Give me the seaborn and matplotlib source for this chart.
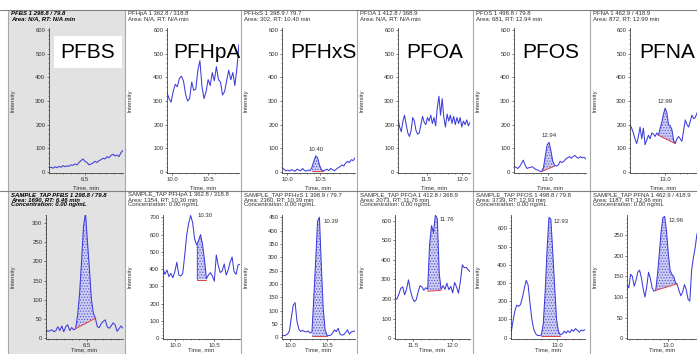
import numpy as np
import matplotlib
matplotlib.use("Agg")
import matplotlib.pyplot as plt
from matplotlib.ticker import FixedLocator, AutoMinorLocator, MultipleLocator, FormatStrFormatter
from matplotlib.lines import Line2D
from matplotlib.patches import Rectangle
import seaborn as sns
import pandas as pd

# ---------------- data ----------------
compounds = ["PFBS", "PFHpA", "PFHxS", "PFOA", "PFOS", "PFNA"]
transitions = ["298.8 / 79.8", "362.8 / 318.8", "398.9 / 79.7", "412.8 / 368.9", "498.8 / 79.8", "462.9 / 418.9"]

top_area = ["N/A", "N/A", "302", "N/A", "681", "872"]
top_rt = ["N/A", "N/A", "10.40", "N/A", "12.94", "12.99"]
bot_area = ["1690", "1354", "2360", "2073", "3739", "1187"]
bot_rt = ["6.46", "10.30", "10.39", "11.76", "12.93", "12.96"]
concentration = "0.00 ng/mL"

# intensities (top row = standard / reference, bottom row = SAMPLE_TAP)
top_pfbs = [18, 20, 16, 22, 18, 24, 20, 27, 22, 26, 24, 30, 28, 34, 30, 40, 48, 55, 45, 40, 30, 34, 38, 45, 40,
            48, 52, 58, 55, 65, 60, 70, 75, 68, 72, 65, 82, 92]
top_pfhpa = [335, 310, 295, 340, 370, 360, 395, 405, 385, 330, 300, 310, 380, 345, 350, 430, 470, 360, 310, 340,
             390, 365, 420, 385, 445, 390, 380, 325, 340, 385, 430, 390, 420, 365, 440, 540]
top_pfhxs = [18, 12, 5, 8, 4, 10, 6, 3, 12, 8, 5, 15, 6, 4, 8, 5, 20, 45, 68, 60, 30, 10, 5, 8, 12, 6, 15, 10, 5,
             12, 18, 22, 30, 25, 38, 45, 40, 52, 48, 60]
top_pfoa = [225, 190, 170, 215, 240, 200, 165, 150, 175, 230, 215, 175, 160, 165, 200, 235, 210, 200, 230, 215,
            240, 205, 230, 195, 270, 320, 240, 310, 230, 190, 245, 215, 240, 205, 235, 200, 230, 205, 230, 190,
            215, 200, 220, 195, 210]
top_pfos = [25, 20, 15, 22, 35, 50, 30, 15, 18, 20, 22, 15, 10, 8, 3, 2, 20, 70, 115, 125, 90, 45, 28, 25, 30, 45,
            40, 45, 55, 60, 65, 58, 65, 70, 62, 58, 65, 60, 62, 55]
top_pfna = [200, 185, 165, 140, 120, 150, 190, 140, 185, 115, 135, 155, 140, 165, 160, 150, 165, 155, 185, 210,
            245, 270, 250, 200, 195, 180, 135, 120, 140, 150, 140, 130, 175, 220, 200, 190, 215, 240, 225, 230, 250]

bot_pfbs = [22, 18, 20, 22, 17, 20, 30, 20, 32, 17, 30, 35, 20, 28, 22, 25, 60, 115, 200, 290, 325, 250, 180, 100,
            65, 52, 30, 28, 38, 44, 48, 30, 26, 32, 40, 35, 18, 25, 32, 26]
bot_pfhpa = [400, 370, 395, 357, 375, 350, 385, 440, 366, 360, 375, 480, 597, 665, 710, 670, 575, 540, 565, 600,
             545, 455, 345, 366, 380, 360, 330, 482, 420, 380, 390, 430, 366, 395, 440, 470, 385, 370, 424, 428]
bot_pfhxs = [9, 6, 8, 12, 25, 75, 120, 130, 60, 30, 22, 26, 22, 20, 24, 16, 20, 150, 290, 435, 450, 270, 110, 30,
             8, 6, 8, 15, 28, 21, 34, 12, 8, 10, 18, 28, 12, 20, 22, 24]
bot_pfoa = [204, 200, 225, 255, 262, 222, 250, 298, 245, 208, 187, 196, 235, 268, 262, 245, 258, 250, 480, 575,
            540, 628, 610, 330, 250, 268, 250, 281, 248, 265, 232, 285, 262, 230, 290, 375, 360, 362, 350, 340]
bot_pfos = [24, 88, 145, 178, 172, 182, 220, 270, 315, 290, 190, 100, 45, 22, 12, 12, 14, 75, 250, 480, 660, 650,
            470, 280, 100, 35, 16, 20, 35, 25, 38, 28, 45, 35, 50, 40, 30, 42, 38, 45]
bot_pfna = [130, 122, 155, 150, 126, 140, 160, 165, 147, 120, 100, 125, 160, 145, 122, 114, 116, 155, 205, 258,
            292, 295, 260, 205, 165, 155, 150, 135, 130, 115, 103, 112, 130, 118, 95, 90, 165, 196, 220, 253]

top_values = [top_pfbs, top_pfhpa, top_pfhxs, top_pfoa, top_pfos, top_pfna]
bot_values = [bot_pfbs, bot_pfhpa, bot_pfhxs, bot_pfoa, bot_pfos, bot_pfna]

# time windows (min)
top_xlim = [(6.0, 7.03), (9.93, 10.93), (9.92, 11.03), (11.1, 12.11), (12.53, 13.53), (12.51, 13.44)]
bot_xlim = [(5.97, 6.96), (9.846, 10.83), (9.89, 10.88), (11.27, 12.23), (12.41, 13.36), (12.47, 13.37)]
xtick_vals = [[6.5], [10.0, 10.5], [10.0, 10.5], [11.5, 12.0], [13.0], [13.0]]

top_ylim = [(-5.5, 607)] * 6
top_yticks = [600] * 6
top_ystep = [100] * 6
bot_ylim = [(-2.6, 320), (-5.8, 713), (-7.5, 458.6), (-5.1, 629), (-8.8, 673), (-2.4, 298.5)]
bot_ytop = [300, 700, 450, 600, 600, 300]
bot_ystep = [50, 100, 50, 100, 100, 50]

# integrated peaks: (start index, end index, baseline start, baseline end)
top_fill = [None, None, (16, 22, 5, 5), None, (15, 22, 2, 25), (17, 27, 155, 120)]
bot_fill = [(15, 25, 25, 52), (17, 22, 340, 340), (16, 24, 5, 5), (17, 24, 240, 245), (16, 26, 10, 10),
            (16, 28, 116, 132)]
bot_drop_line = [False, True, False, False, False, False]

# ---------------- style ----------------
sns.set_style("ticks")
plt.rcParams['font.family'] = ['Liberation Sans', 'DejaVu Sans']
plt.rcParams['hatch.linewidth'] = 0.6

BLUE = "#3c3cdc"
RED = "#e04040"
GRAY_BG = "#e2e2e2"
SEP = "#a8a8a8"
TXT = "#303030"
FS = 4.3

W, H = 697, 354
fig = plt.figure(figsize=(W / 100, H / 100), dpi=100)


def fx(x):
    return x / W


def fy(y):
    return 1 - y / H


col_x = [8, 125, 241, 357, 473, 590]
top_left = [49, 167, 282, 398, 514, 630]
top_right = [123, 239, 355, 470, 586, 697]
bot_left = [46, 163, 282, 395, 511, 627]
bot_right = [123, 240, 355, 470, 585, 697]
TOP_T, TOP_B = 28.3, 173.3
BOT_T, BOT_B = 215.0, 339.3

# background of selected (first) column
fig.add_artist(Rectangle((fx(col_x[0]), 0), (col_x[1] - col_x[0]) / W, fy(10), transform=fig.transFigure,
                         facecolor=GRAY_BG, edgecolor="none", zorder=-5))
for cx in col_x:
    fig.add_artist(Line2D([fx(cx), fx(cx)], [0, fy(10)], transform=fig.transFigure, color=SEP, lw=0.8))
for yy in (10, 191):
    fig.add_artist(Line2D([0, 1], [fy(yy), fy(yy)], transform=fig.transFigure, color="#808080", lw=0.8))


def draw_panel(ax, vals, xlim, ylim, xt, ytop, ystep, fill, drop, label, label_off, label_align):
    t = np.linspace(xlim[0], xlim[1], len(vals))
    v = np.array(vals, dtype=float)
    if fill is not None:
        s, e, b0, b1 = fill
        base = np.interp(t[s:e + 1], [t[s], t[e]], [b0, b1])
        ax.fill_between(t[s:e + 1], v[s:e + 1], base, facecolor="#cfcff2", edgecolor="#5a5ad8",
                        hatch="......", linewidth=0, zorder=1)
        if drop:
            ax.plot([t[s], t[s], t[e]], [v[s], b0, b1], color=RED, lw=0.7, zorder=3)
        else:
            ax.plot([t[s], t[e]], [b0, b1], color=RED, lw=0.7, zorder=3)
        k = s + int(np.argmax(v[s:e + 1]))
        ax.annotate(label, xy=(t[k], v[k]), xytext=label_off, textcoords="offset points",
                    fontsize=FS, color=TXT, ha=label_align[0], va=label_align[1])
    df = pd.DataFrame({"Time": t, "Intensity": v})
    sns.lineplot(data=df, x="Time", y="Intensity", ax=ax, color=BLUE, lw=0.75, estimator=None, zorder=2)
    ax.set_xlim(*xlim)
    ax.set_ylim(*ylim)
    ax.xaxis.set_major_locator(FixedLocator(xt))
    ax.xaxis.set_major_formatter(FormatStrFormatter("%.1f"))
    ax.xaxis.set_minor_locator(MultipleLocator(0.1))
    ax.yaxis.set_major_locator(FixedLocator(list(range(0, ytop + 1, ystep))))
    ax.yaxis.set_minor_locator(AutoMinorLocator(5))
    ax.set_xlabel("")
    ax.set_ylabel("")
    ax.set_facecolor("none")
    sns.despine(ax=ax)
    for sp in ("left", "bottom"):
        ax.spines[sp].set_color("#404040")
        ax.spines[sp].set_linewidth(0.6)
    ax.tick_params(axis="both", which="major", labelsize=FS, length=1.6, width=0.5, pad=1.0,
                   colors="#404040", labelcolor=TXT)
    ax.tick_params(axis="both", which="minor", length=0.8, width=0.4, colors="#404040")


for i in range(6):
    bold = dict(fontweight="bold", fontstyle="italic", color="black") if i == 0 else dict(color=TXT)
    hx = col_x[i] + 3
    # ---- top row ----
    ax = fig.add_axes([fx(top_left[i]), fy(TOP_B), (top_right[i] - top_left[i]) / W, (TOP_B - TOP_T) / H])
    draw_panel(ax, top_values[i], top_xlim[i], top_ylim[i], xtick_vals[i], top_yticks[i], top_ystep[i],
               top_fill[i], False, top_rt[i], (0, 3), ("center", "bottom"))
    fig.text(fx(hx), fy(13.5), f"{compounds[i]} 1 {transitions[i]}", fontsize=FS, va="center", ha="left", **bold)
    fig.text(fx(hx), fy(19.0), f"Area: {top_area[i]}, RT: {top_rt[i]} min", fontsize=FS, va="center",
             ha="left", **bold)
    fig.text(fx(col_x[i] + 5), fy((TOP_T + TOP_B) / 2), "Intensity", fontsize=FS, rotation=90,
             va="center", ha="center", color=TXT)
    fig.text(fx((top_left[i] + top_right[i]) / 2), fy(188), "Time, min", fontsize=FS, va="center",
             ha="center", color=TXT)
    # ---- bottom row ----
    ax = fig.add_axes([fx(bot_left[i]), fy(BOT_B), (bot_right[i] - bot_left[i]) / W, (BOT_B - BOT_T) / H])
    if bot_drop_line[i]:
        off, al = (-2, 12), ("left", "bottom")
    else:
        off, al = (3, -1), ("left", "top")
    draw_panel(ax, bot_values[i], bot_xlim[i], bot_ylim[i], xtick_vals[i], bot_ytop[i], bot_ystep[i],
               bot_fill[i], bot_drop_line[i], bot_rt[i], off, al)
    fig.text(fx(hx), fy(194.5), f"SAMPLE_TAP {compounds[i]} 1 {transitions[i]}", fontsize=FS, va="center",
             ha="left", **bold)
    fig.text(fx(hx), fy(199.5), f"Area: {bot_area[i]}, RT: {bot_rt[i]} min", fontsize=FS, va="center",
             ha="left", **bold)
    fig.text(fx(hx), fy(204.5), f"Concentration: {concentration}", fontsize=FS, va="center", ha="left", **bold)
    fig.text(fx(col_x[i] + 5), fy((BOT_T + BOT_B) / 2), "Intensity", fontsize=FS, rotation=90,
             va="center", ha="center", color=TXT)
    fig.text(fx((bot_left[i] + bot_right[i]) / 2), fy(350), "Time, min", fontsize=FS, va="center",
             ha="center", color=TXT)

# big compound labels
big_x = [88, 207, 323, 435, 551, 667]
for i in range(6):
    kw = {}
    if i == 0:
        kw["bbox"] = dict(boxstyle="square,pad=0.32", fc="white", ec="none")
    fig.text(fx(big_x[i]), fy(52), compounds[i], fontsize=15, ha="center", va="center", color="black",
             zorder=10, **kw)

fig.savefig("out.png", dpi=100, facecolor="white")
